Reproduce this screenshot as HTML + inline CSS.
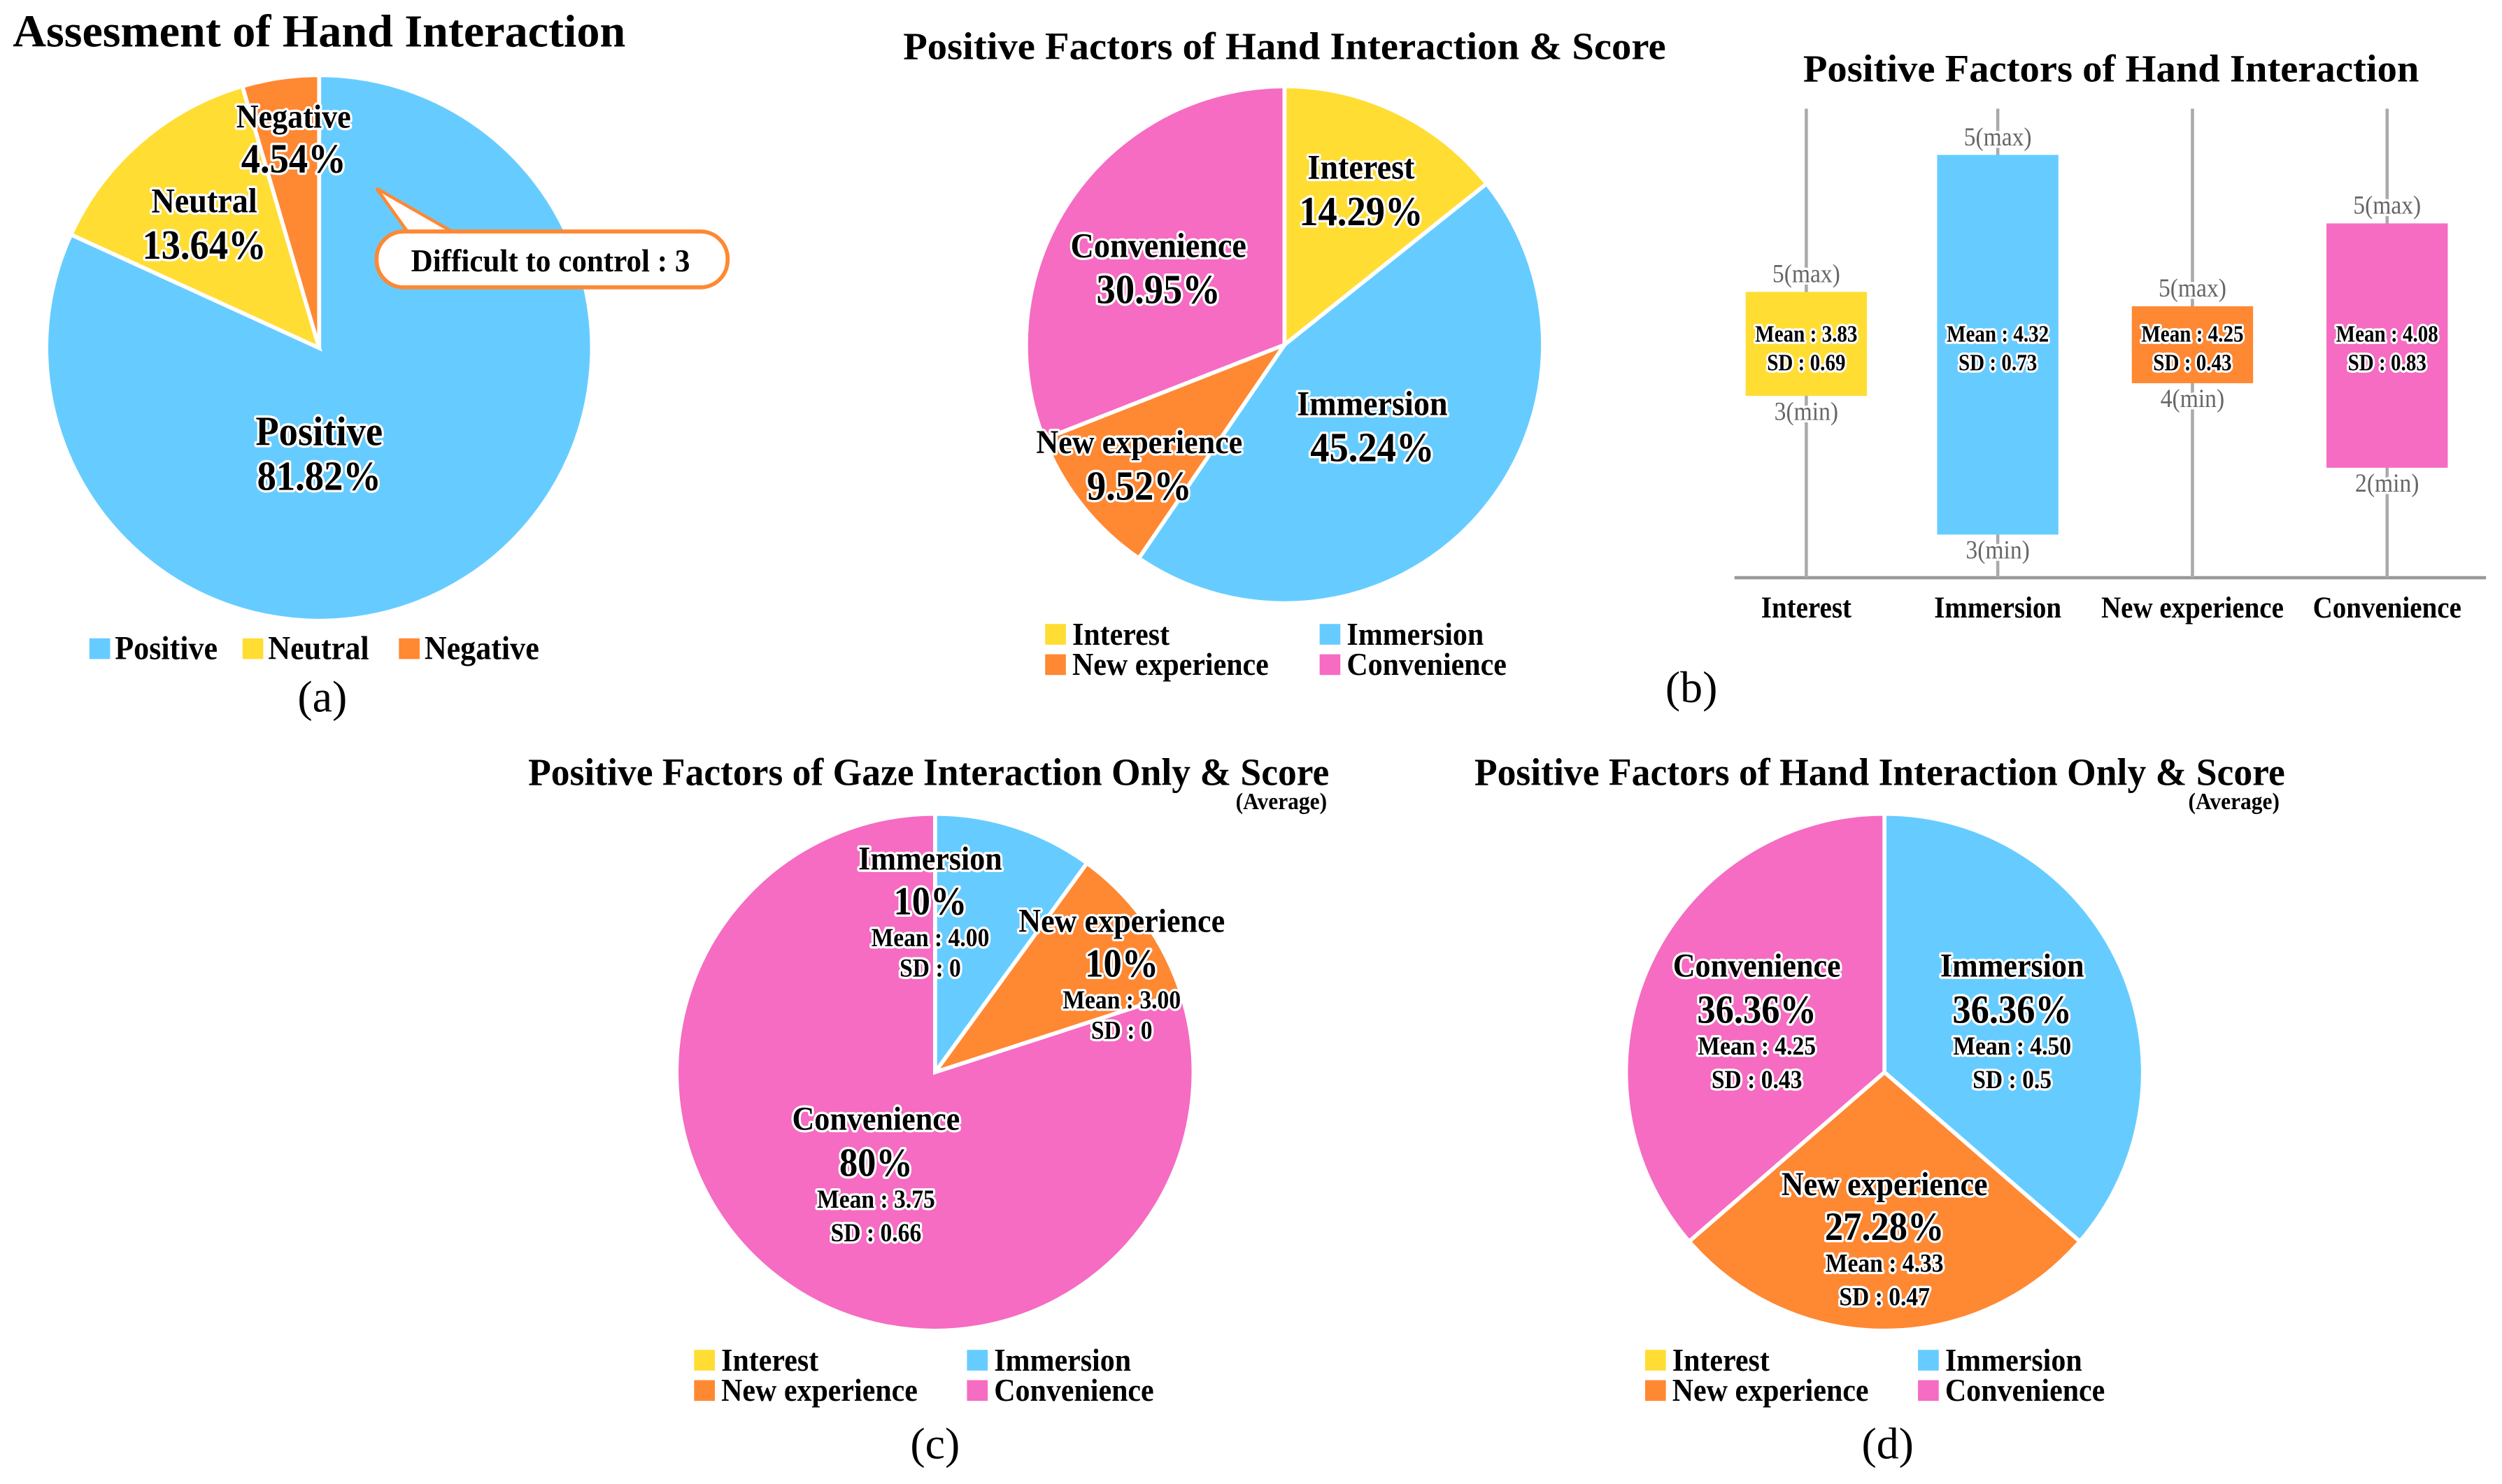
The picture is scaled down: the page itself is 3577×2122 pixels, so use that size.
<!DOCTYPE html>
<html><head><meta charset="utf-8">
<style>
html,body{margin:0;padding:0;background:#fff;}
svg{display:block;}
.g{stroke:#fff;stroke-width:3;paint-order:stroke;stroke-linejoin:round;}
</style></head>
<body>
<svg id="fig" width="3577" height="2122" viewBox="0 0 1568 930" xmlns="http://www.w3.org/2000/svg">
<rect width="1568" height="930" fill="#fff"/>
<g id="root"></g>
</svg>
<script>
// ---- data ----
const colors = {Positive:"#66CCFF",Neutral:"#FFDD33",Negative:"#FF8833",Interest:"#FFDD33",Immersion:"#66CCFF","New experience":"#FF8833",Convenience:"#F56CC2"};
const aCats = ["Positive","Neutral","Negative"];
const aVals = [81.82,13.64,4.54];
const bCats = ["Interest","Immersion","New experience","Convenience"];
const bVals = [14.29,45.24,9.52,30.95];
const cCats = ["Immersion","New experience","Convenience"];
const cVals = [10,10,80];
const cMeans = ["4.00","3.00","3.75"];
const cSDs = ["0","0","0.66"];
const dCats = ["Immersion","New experience","Convenience"];
const dVals = [36.36,27.28,36.36];
const dMeans = ["4.50","4.33","4.25"];
const dSDs = ["0.5","0.47","0.43"];
const boxCats = ["Interest","Immersion","New experience","Convenience"];
const boxTop = [3.38,5.0,3.21,4.19];
const boxBottom = [2.15,0.51,2.30,1.30];
const boxMean = ["3.83","4.32","4.25","4.08"];
const boxSD = ["0.69","0.73","0.43","0.83"];
const boxMax = ["5","5","5","5"];
const boxMin = ["3","3","4","2"];

const NS="http://www.w3.org/2000/svg";
const root=document.getElementById('root');
function el(tag,attrs,parent){const e=document.createElementNS(NS,tag);for(const k in attrs)e.setAttribute(k,attrs[k]);(parent||root).appendChild(e);return e;}
function txt(x,y,s,size,name,opt){opt=opt||{};
  const t=el('text',{x:0,y:0,'font-size':size,'text-anchor':opt.anchor||'middle',transform:`translate(${x},${y}) scale(${opt.sx||0.92},1)`,class:opt.glow===false?'':'g'},opt.parent);
  t.setAttribute('style',`font-family:"Liberation Serif","DejaVu Serif",serif;font-weight:${opt.normal?'normal':'bold'};fill:${opt.fill||'#000'}`);
  if(opt.len){t.setAttribute('textLength',opt.len);t.setAttribute('lengthAdjust','spacingAndGlyphs');}
  t.textContent=s;
  
  
  return t;}
function pt(cx,cy,r,deg){const a=(deg-90)*Math.PI/180;return [cx+r*Math.cos(a),cy+r*Math.sin(a)];}
function pie(cx,cy,r,cats,vals,prefix){
  const g=el('g',{});
  
  
  const tot=vals.reduce((a,b)=>a+b,0);let acc=0;
  cats.forEach((c,i)=>{const s=acc/tot*360;acc+=vals[i];const e=acc/tot*360;
    const p1=pt(cx,cy,r,s),p2=pt(cx,cy,r,e);const large=(e-s)>180?1:0;
    const p=el('path',{d:`M${cx},${cy} L${p1[0]},${p1[1]} A${r},${r} 0 ${large} 1 ${p2[0]},${p2[1]} Z`,fill:colors[c],stroke:'#fff','stroke-width':2.5},g);
    
    
  });
}
function legend(x1,x2,y1,items,prefix){
  items.forEach((c,i)=>{const x=(i%2?x2:x1),y=y1+Math.floor(i/2)*19;
    const r=el('rect',{x:x,y:y-13,width:13,height:13,fill:colors[c]});
    
    
    txt(x+17,y,c,20,prefix+'-legend-entry',{anchor:'start'});
  });
}

// ---- (a) ----
txt(8,29,"Assesment of Hand Interaction",29,'title-a',{anchor:'start',sx:1,len:384});
pie(200,218,171,aCats,aVals,'a');
txt(200,279,"Positive",26,'label-positive');
txt(200,307,aVals[0].toFixed(2)+"%",26,'value-positive');
txt(128,133,"Neutral",22,'label-neutral');
txt(128,162,aVals[1].toFixed(2)+"%",26,'value-neutral');
txt(184,80,"Negative",21,'label-negative');
txt(184,108,aVals[2].toFixed(2)+"%",26,'value-negative');
const co=el('g',{});
el('path',{d:"M236,118 L256,146 L285,146 Z",fill:'#fff',stroke:'#FF8833','stroke-width':2},co);
el('rect',{x:236,y:145,width:220,height:35,rx:17,fill:'#fff',stroke:'#FF8833','stroke-width':2.5},co);
el('rect',{x:250,y:147,width:40,height:5,fill:'#fff'},co);
txt(345,170,"Difficult to control : 3",20,'callout-text',{parent:co,len:190});
[["Positive",56],["Neutral",152],["Negative",250]].forEach(([c,x])=>{
  const r=el('rect',{x:x,y:400,width:13,height:13,fill:colors[c]});
  
  txt(x+16,413,c,21,'a-legend-entry',{anchor:'start'});
});
txt(202,446,"(a)",28,'caption-a',{normal:true,glow:false,sx:1});

// ---- (b) pie ----
txt(805,37,"Positive Factors of Hand Interaction & Score",24,'title-b',{sx:1,len:478});
pie(805,216,162,bCats,bVals,'b');
txt(853,112,"Interest",22,'label-interest');
txt(853,141,bVals[0].toFixed(2)+"%",26,'value-interest');
txt(860,260,"Immersion",22,'label-immersion');
txt(860,289,bVals[1].toFixed(2)+"%",26,'value-immersion');
txt(714,284,"New experience",21,'label-new-experience');
txt(714,313,bVals[2].toFixed(2)+"%",26,'value-new-experience');
txt(726,161,"Convenience",22,'label-convenience');
txt(726,190,bVals[3].toFixed(2)+"%",26,'value-convenience');
legend(655,827,404,bCats,'b');

// ---- (b) box ----
txt(1323,51,"Positive Factors of Hand Interaction",24,'title-box',{sx:1,len:386});
const bxs=[1132,1252,1374,1496];
function yB(v){return 362-v*53;}
el('line',{x1:1087,y1:362,x2:1558,y2:362,stroke:'#999','stroke-width':2});
boxCats.forEach((c,i)=>{const x=bxs[i];
  const l=el('line',{x1:x,y1:68,x2:x,y2:362,stroke:'#aaa','stroke-width':2});
  
  const t=yB(boxTop[i]),b=yB(boxBottom[i]);
  const r=el('rect',{x:x-38,y:t,width:76,height:b-t,fill:colors[c]});
  
  txt(x,t-6,boxMax[i]+"(max)",16,'box-max-label',{normal:true,fill:'#666'});
  txt(x,b+15,boxMin[i]+"(min)",16,'box-min-label',{normal:true,fill:'#666'});
  txt(x,214,"Mean : "+boxMean[i],15,'box-mean-label',{sx:0.85});
  txt(x,232,"SD : "+boxSD[i],15,'box-sd-label',{sx:0.85});
  txt(x,387,c,19,'box-x-label',{sx:0.9});
});
txt(1060,440,"(b)",28,'caption-b',{normal:true,glow:false,sx:1});

// ---- (c) ----
txt(582,492,"Positive Factors of Gaze Interaction Only & Score",24,'title-c',{sx:1,len:502});
txt(803,507,"(Average)",15,'subtitle-c');
pie(586,672,162,cCats,cVals,'c');
txt(583,545,"Immersion",21,'c-label-immersion');
txt(583,573,cVals[0]+"%",25,'c-value-immersion');
txt(583,593,"Mean : "+cMeans[0],16,'c-mean-immersion');
txt(583,612,"SD : "+cSDs[0],16,'c-sd-immersion');
txt(703,584,"New experience",21,'c-label-new-experience');
txt(703,612,cVals[1]+"%",25,'c-value-new-experience');
txt(703,632,"Mean : "+cMeans[1],16,'c-mean-new-experience');
txt(703,651,"SD : "+cSDs[1],16,'c-sd-new-experience');
txt(549,708,"Convenience",21,'c-label-convenience');
txt(549,737,cVals[2]+"%",25,'c-value-convenience');
txt(549,757,"Mean : "+cMeans[2],16,'c-mean-convenience');
txt(549,778,"SD : "+cSDs[2],16,'c-sd-convenience');
legend(435,606,859,["Interest","Immersion","New experience","Convenience"],'c');
txt(586,914,"(c)",28,'caption-c',{normal:true,glow:false,sx:1});

// ---- (d) ----
txt(1178,492,"Positive Factors of Hand Interaction Only & Score",24,'title-d',{sx:1,len:508});
txt(1400,507,"(Average)",15,'subtitle-d');
pie(1181,672,162,dCats,dVals,'d');
txt(1261,612,"Immersion",21,'d-label-immersion');
txt(1261,641,dVals[0].toFixed(2)+"%",25,'d-value-immersion');
txt(1261,661,"Mean : "+dMeans[0],16,'d-mean-immersion');
txt(1261,682,"SD : "+dSDs[0],16,'d-sd-immersion');
txt(1181,749,"New experience",21,'d-label-new-experience');
txt(1181,777,dVals[1].toFixed(2)+"%",25,'d-value-new-experience');
txt(1181,797,"Mean : "+dMeans[1],16,'d-mean-new-experience');
txt(1181,818,"SD : "+dSDs[1],16,'d-sd-new-experience');
txt(1101,612,"Convenience",21,'d-label-convenience');
txt(1101,641,dVals[2].toFixed(2)+"%",25,'d-value-convenience');
txt(1101,661,"Mean : "+dMeans[2],16,'d-mean-convenience');
txt(1101,682,"SD : "+dSDs[2],16,'d-sd-convenience');
legend(1031,1202,859,["Interest","Immersion","New experience","Convenience"],'d');
txt(1183,914,"(d)",28,'caption-d',{normal:true,glow:false,sx:1});
</script>
</body></html>
